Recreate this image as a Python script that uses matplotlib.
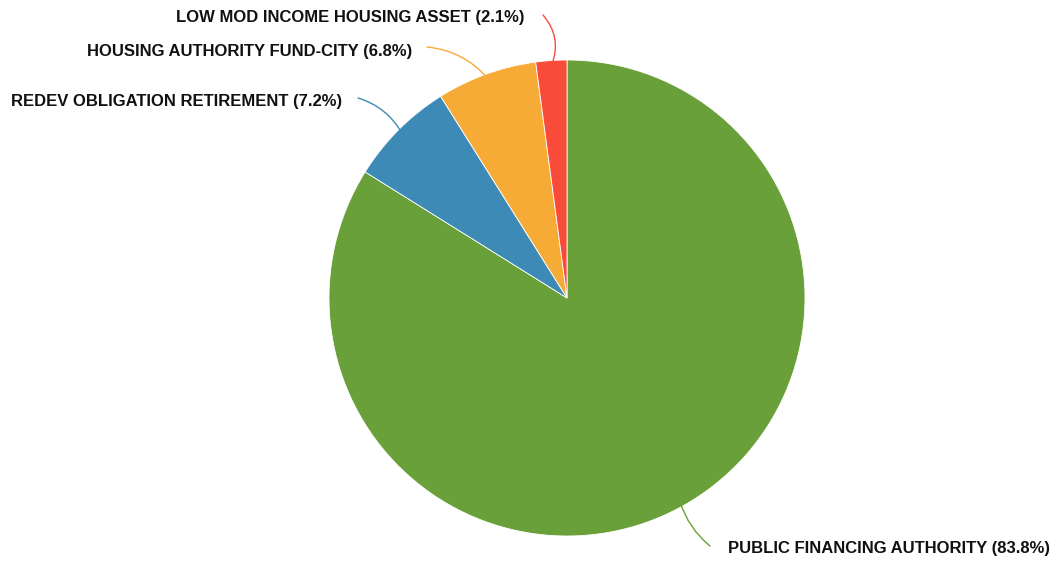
import numpy as np
import matplotlib.pyplot as plt

labels = ['PUBLIC FINANCING AUTHORITY', 'REDEV OBLIGATION RETIREMENT',
          'HOUSING AUTHORITY FUND-CITY', 'LOW MOD INCOME HOUSING ASSET']
values = [83.8, 7.2, 6.8, 2.1]
colors = ['#69a03a', '#3e8ab6', '#f7ab37', '#f94b3a']

# label anchor (x, y from top, ha) and line start, in pixel coords
label_pos = [(728, 548, 'left'), (342, 101, 'right'), (412, 51, 'right'), (525, 17, 'right')]
line_start = [(710, 546), (358, 98), (427, 47), (543, 15)]
rads = [-0.15, -0.2, -0.2, -0.3]

W, H = 1057, 561
fig = plt.figure(figsize=(W / 100, H / 100), dpi=100)
ax = fig.add_axes([0, 0, 1, 1])

cx, cy, r = 567, H - 298, 238
ax.pie(values, colors=colors, startangle=90, counterclock=False,
       center=(cx, cy), radius=r, frame=True,
       wedgeprops=dict(edgecolor='white', linewidth=0.6))
ax.set_xlim(0, W)
ax.set_ylim(0, H)
ax.set_aspect('equal')
ax.axis('off')

total = sum(values)
cum = 0
for i, v in enumerate(values):
    mid = (cum + v / 2) / total
    cum += v
    ang = np.deg2rad(90 - 360 * mid)
    ex = cx + r * 0.98 * np.cos(ang)
    ey = cy + r * 0.98 * np.sin(ang)
    sx, sy = line_start[i]
    ax.annotate('', xy=(ex, ey), xytext=(sx, H - sy),
                arrowprops=dict(arrowstyle='-', color=colors[i], lw=1,
                                shrinkA=0, shrinkB=0,
                                connectionstyle=f'arc3,rad={rads[i]}'))
    x, y, ha = label_pos[i]
    ax.text(x, H - y, f'{labels[i]} ({v}%)', ha=ha, va='center',
            fontsize=12, fontweight='bold', family='Liberation Sans', color='#111111')

fig.savefig('out.png', dpi=100)
